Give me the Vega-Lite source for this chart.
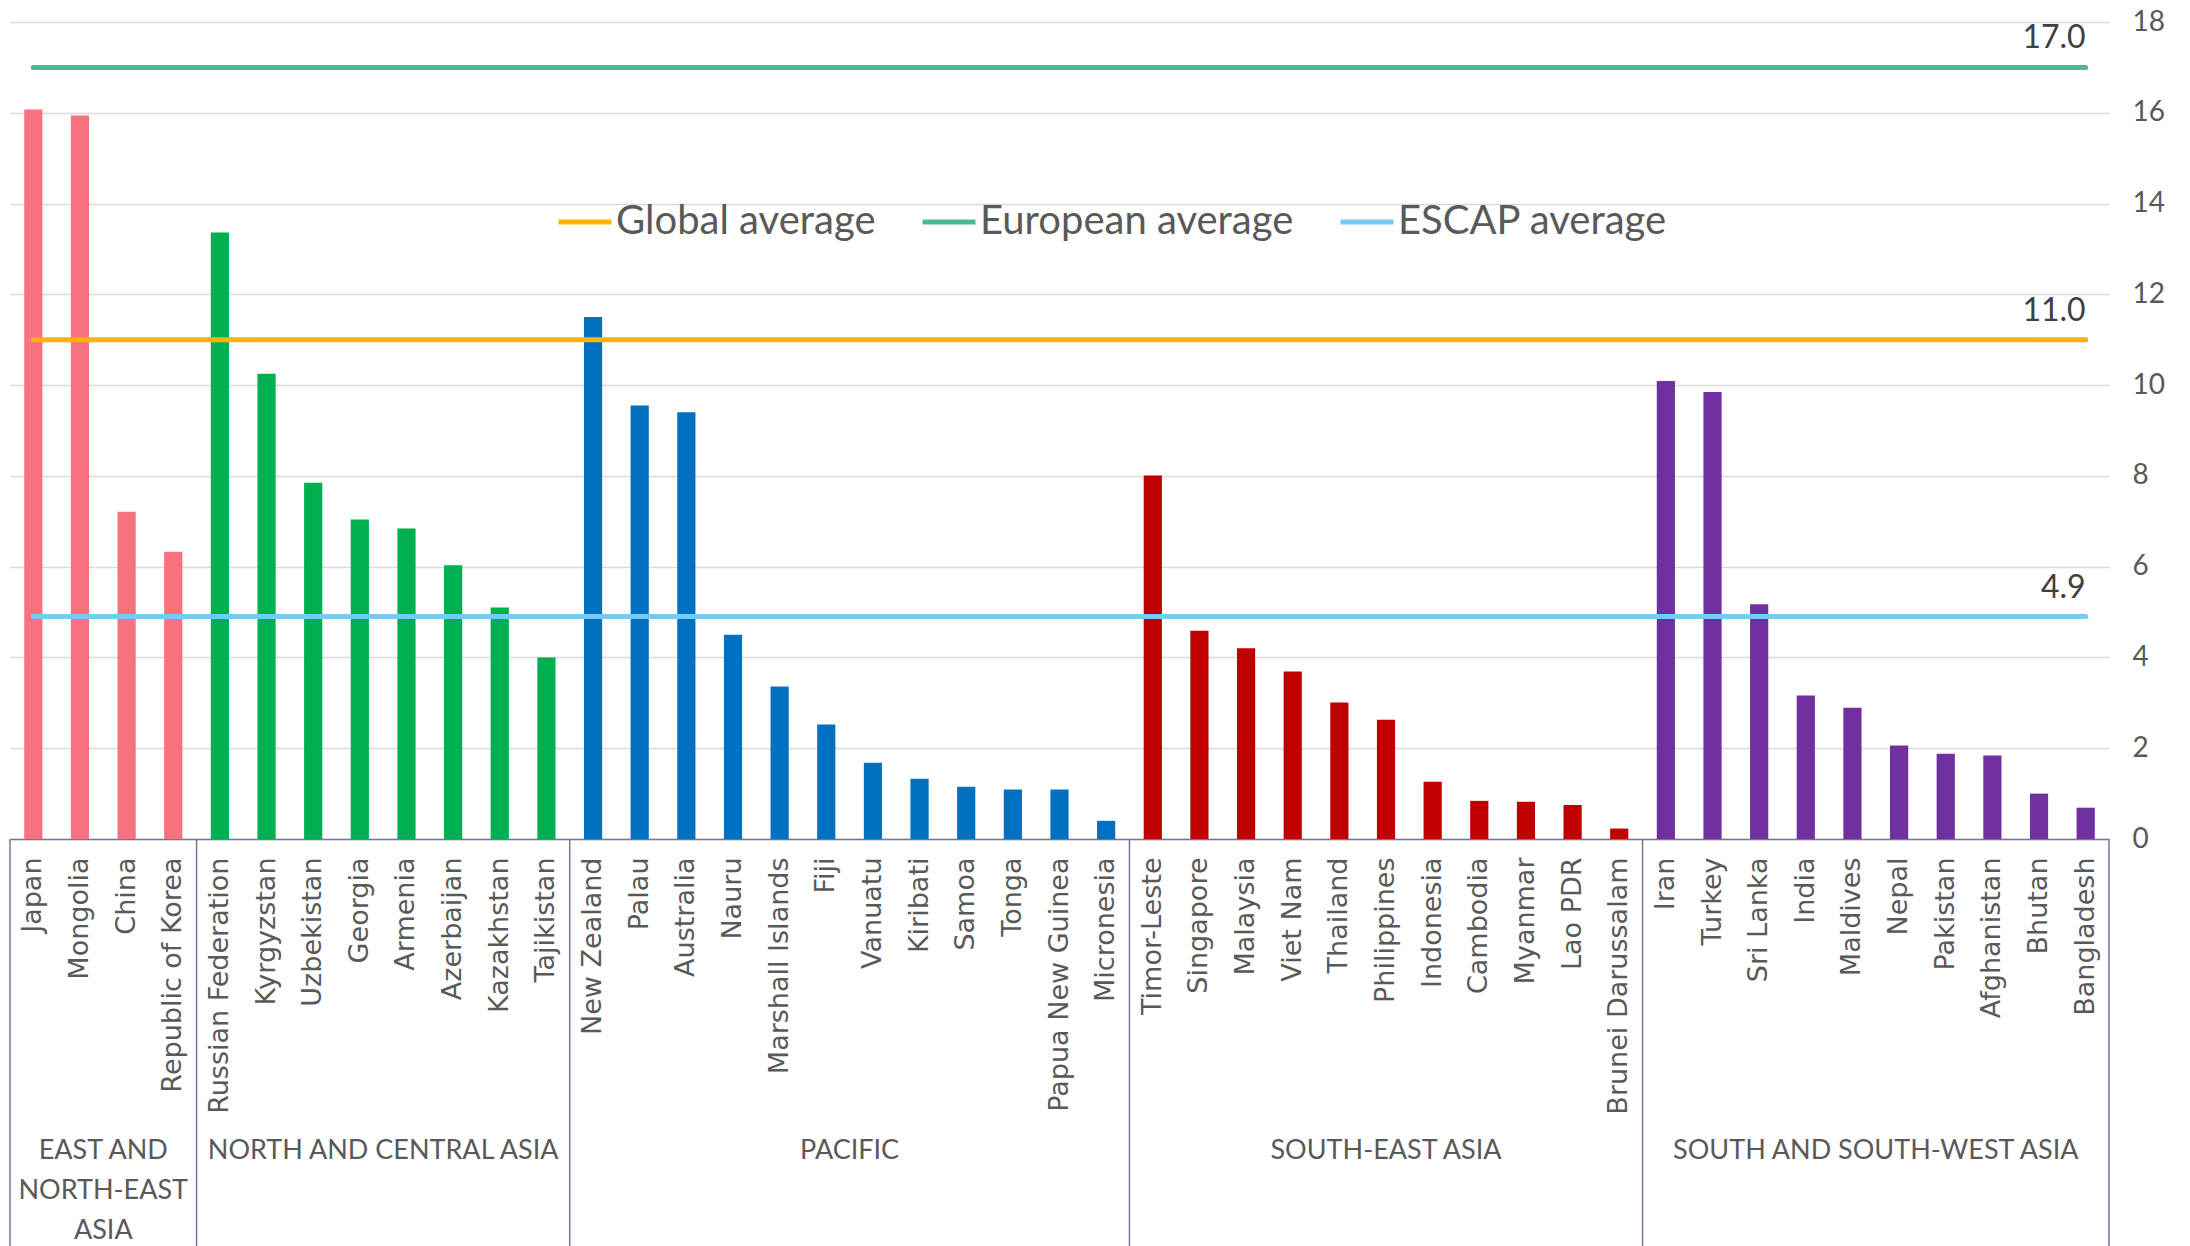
{
  "$schema": "https://vega.github.io/schema/vega-lite/v6.json",
  "width": 2099,
  "height": 817,
  "autosize": {"type": "none"},
  "padding": {"left": 10, "top": 22, "right": 81, "bottom": 407},
  "background": "white",
  "config": {"view": {"stroke": null}, "font": "Lato"},
  "datasets": {
    "countries": [
      {"country": "Japan", "region": "EAST AND NORTH-EAST ASIA", "value": 16.07},
      {"country": "Mongolia", "region": "EAST AND NORTH-EAST ASIA", "value": 15.94},
      {"country": "China", "region": "EAST AND NORTH-EAST ASIA", "value": 7.21},
      {"country": "Republic of Korea", "region": "EAST AND NORTH-EAST ASIA", "value": 6.33},
      {"country": "Russian Federation", "region": "NORTH AND CENTRAL ASIA", "value": 13.36},
      {"country": "Kyrgyzstan", "region": "NORTH AND CENTRAL ASIA", "value": 10.25},
      {"country": "Uzbekistan", "region": "NORTH AND CENTRAL ASIA", "value": 7.85},
      {"country": "Georgia", "region": "NORTH AND CENTRAL ASIA", "value": 7.04},
      {"country": "Armenia", "region": "NORTH AND CENTRAL ASIA", "value": 6.84},
      {"country": "Azerbaijan", "region": "NORTH AND CENTRAL ASIA", "value": 6.03},
      {"country": "Kazakhstan", "region": "NORTH AND CENTRAL ASIA", "value": 5.10},
      {"country": "Tajikistan", "region": "NORTH AND CENTRAL ASIA", "value": 4.00},
      {"country": "New Zealand", "region": "PACIFIC", "value": 11.50},
      {"country": "Palau", "region": "PACIFIC", "value": 9.55},
      {"country": "Australia", "region": "PACIFIC", "value": 9.40},
      {"country": "Nauru", "region": "PACIFIC", "value": 4.50},
      {"country": "Marshall Islands", "region": "PACIFIC", "value": 3.36},
      {"country": "Fiji", "region": "PACIFIC", "value": 2.52},
      {"country": "Vanuatu", "region": "PACIFIC", "value": 1.68},
      {"country": "Kiribati", "region": "PACIFIC", "value": 1.33},
      {"country": "Samoa", "region": "PACIFIC", "value": 1.15},
      {"country": "Tonga", "region": "PACIFIC", "value": 1.09},
      {"country": "Papua New Guinea", "region": "PACIFIC", "value": 1.09},
      {"country": "Micronesia", "region": "PACIFIC", "value": 0.40},
      {"country": "Timor-Leste", "region": "SOUTH-EAST ASIA", "value": 8.01},
      {"country": "Singapore", "region": "SOUTH-EAST ASIA", "value": 4.59},
      {"country": "Malaysia", "region": "SOUTH-EAST ASIA", "value": 4.20},
      {"country": "Viet Nam", "region": "SOUTH-EAST ASIA", "value": 3.69},
      {"country": "Thailand", "region": "SOUTH-EAST ASIA", "value": 3.01},
      {"country": "Philippines", "region": "SOUTH-EAST ASIA", "value": 2.63},
      {"country": "Indonesia", "region": "SOUTH-EAST ASIA", "value": 1.26},
      {"country": "Cambodia", "region": "SOUTH-EAST ASIA", "value": 0.84},
      {"country": "Myanmar", "region": "SOUTH-EAST ASIA", "value": 0.82},
      {"country": "Lao PDR", "region": "SOUTH-EAST ASIA", "value": 0.75},
      {"country": "Brunei Darussalam", "region": "SOUTH-EAST ASIA", "value": 0.23},
      {"country": "Iran", "region": "SOUTH AND SOUTH-WEST ASIA", "value": 10.09},
      {"country": "Turkey", "region": "SOUTH AND SOUTH-WEST ASIA", "value": 9.85},
      {"country": "Sri Lanka", "region": "SOUTH AND SOUTH-WEST ASIA", "value": 5.17},
      {"country": "India", "region": "SOUTH AND SOUTH-WEST ASIA", "value": 3.16},
      {"country": "Maldives", "region": "SOUTH AND SOUTH-WEST ASIA", "value": 2.89},
      {"country": "Nepal", "region": "SOUTH AND SOUTH-WEST ASIA", "value": 2.06},
      {"country": "Pakistan", "region": "SOUTH AND SOUTH-WEST ASIA", "value": 1.88},
      {"country": "Afghanistan", "region": "SOUTH AND SOUTH-WEST ASIA", "value": 1.84},
      {"country": "Bhutan", "region": "SOUTH AND SOUTH-WEST ASIA", "value": 1.00},
      {"country": "Bangladesh", "region": "SOUTH AND SOUTH-WEST ASIA", "value": 0.69}
    ],
    "averages": [
      {"series": "Global average", "value": 11.0},
      {"series": "European average", "value": 17.0},
      {"series": "ESCAP average", "value": 4.9}
    ],
    "regions": [
      {"region": "EAST AND NORTH-EAST ASIA", "first": "Japan", "edge": "China", "label": ["EAST AND", "NORTH-EAST", "ASIA"]},
      {"region": "NORTH AND CENTRAL ASIA", "first": "Russian Federation", "edge": "Armenia", "label": ["NORTH AND CENTRAL ASIA"]},
      {"region": "PACIFIC", "first": "New Zealand", "edge": "Vanuatu", "label": ["PACIFIC"]},
      {"region": "SOUTH-EAST ASIA", "first": "Timor-Leste", "mid": "Philippines", "label": ["SOUTH-EAST ASIA"]},
      {"region": "SOUTH AND SOUTH-WEST ASIA", "first": "Iran", "edge": "Nepal", "label": ["SOUTH AND SOUTH-WEST ASIA"]}
    ]
  },
  "layer": [
    {
      "data": {"name": "countries"},
      "mark": {"type": "bar", "width": {"band": 0.39}},
      "encoding": {
        "x": {
          "field": "country",
          "type": "nominal",
          "sort": null,
          "scale": {
            "paddingInner": 0,
            "paddingOuter": 0,
            "domain": ["Japan", "Mongolia", "China", "Republic of Korea", "Russian Federation", "Kyrgyzstan", "Uzbekistan", "Georgia", "Armenia", "Azerbaijan", "Kazakhstan", "Tajikistan", "New Zealand", "Palau", "Australia", "Nauru", "Marshall Islands", "Fiji", "Vanuatu", "Kiribati", "Samoa", "Tonga", "Papua New Guinea", "Micronesia", "Timor-Leste", "Singapore", "Malaysia", "Viet Nam", "Thailand", "Philippines", "Indonesia", "Cambodia", "Myanmar", "Lao PDR", "Brunei Darussalam", "Iran", "Turkey", "Sri Lanka", "India", "Maldives", "Nepal", "Pakistan", "Afghanistan", "Bhutan", "Bangladesh"]
          },
          "axis": {
            "title": null,
            "labelAngle": -90,
            "labelFont": "DejaVu Sans",
            "labelFontSize": 27,
            "labelColor": "#595959",
            "labelPadding": 18,
            "labelLimit": 400,
            "labelOverlap": false,
            "ticks": false,
            "grid": false,
            "domainColor": "#7F6F9C",
            "domainWidth": 1.5
          }
        },
        "y": {
          "field": "value",
          "type": "quantitative",
          "scale": {"domain": [0, 18], "nice": false},
          "axis": {
            "title": null,
            "orient": "right",
            "values": [0, 2, 4, 6, 8, 10, 12, 14, 16, 18],
            "grid": true,
            "gridColor": "#D9D9D9",
            "gridWidth": 1.5,
            "domain": false,
            "ticks": false,
            "labelFont": "Lato",
            "labelFontSize": 28,
            "labelColor": "#595959",
            "labelPadding": 23
          }
        },
        "fill": {
          "field": "region",
          "type": "nominal",
          "scale": {
            "domain": ["EAST AND NORTH-EAST ASIA", "NORTH AND CENTRAL ASIA", "PACIFIC", "SOUTH-EAST ASIA", "SOUTH AND SOUTH-WEST ASIA"],
            "range": ["#F7717F", "#00B050", "#0070C0", "#C00000", "#7030A0"]
          },
          "legend": null
        }
      }
    },
    {
      "data": {"name": "regions"},
      "mark": {"type": "rule", "color": "#7F6F9C", "strokeWidth": 1.5},
      "encoding": {
        "x": {"field": "first", "type": "nominal", "bandPosition": 0},
        "y": {"datum": 0, "type": "quantitative"},
        "y2": {"datum": -9}
      }
    },
    {
      "data": {"name": "regions"},
      "transform": [{"filter": "datum.region == 'SOUTH AND SOUTH-WEST ASIA'"}],
      "mark": {"type": "rule", "color": "#7F6F9C", "strokeWidth": 1.5},
      "encoding": {
        "x": {"datum": "Bangladesh", "type": "nominal", "bandPosition": 1},
        "y": {"datum": 0, "type": "quantitative"},
        "y2": {"datum": -9}
      }
    },
    {
      "data": {"name": "regions"},
      "transform": [{"filter": "isValid(datum.edge)"}],
      "mark": {"type": "text", "font": "Lato", "fontSize": 27, "color": "#595959", "align": "center", "baseline": "top", "lineHeight": 40},
      "encoding": {
        "x": {"field": "edge", "type": "nominal", "bandPosition": 0},
        "y": {"datum": -6.58, "type": "quantitative"},
        "text": {"field": "label", "type": "nominal"}
      }
    },
    {
      "data": {"name": "regions"},
      "transform": [{"filter": "isValid(datum.mid)"}],
      "mark": {"type": "text", "font": "Lato", "fontSize": 27, "color": "#595959", "align": "center", "baseline": "top", "lineHeight": 40},
      "encoding": {
        "x": {"field": "mid", "type": "nominal", "bandPosition": 0.5},
        "y": {"datum": -6.58, "type": "quantitative"},
        "text": {"field": "label", "type": "nominal"}
      }
    },
    {
      "data": {"name": "averages"},
      "mark": {"type": "rule", "strokeWidth": 5, "strokeCap": "round"},
      "encoding": {
        "x": {"datum": "Japan", "type": "nominal"},
        "x2": {"datum": "Bangladesh"},
        "y": {"field": "value", "type": "quantitative"},
        "stroke": {
          "field": "series",
          "type": "nominal",
          "scale": {
            "domain": ["Global average", "European average", "ESCAP average"],
            "range": ["#FFB300", "#44BB99", "#75CBF6"]
          },
          "legend": {
            "orient": "none",
            "legendX": 546,
            "legendY": 171,
            "direction": "horizontal",
            "columns": 3,
            "title": null,
            "symbolType": "stroke",
            "symbolStrokeWidth": 5,
            "symbolSize": 2809,
            "labelFont": "Lato",
            "labelFontSize": 40,
            "labelColor": "#595959",
            "labelOffset": 2,
            "columnPadding": 36,
            "labelLimit": 500
          }
        }
      }
    },
    {
      "data": {"name": "averages"},
      "mark": {"type": "text", "font": "Lato", "fontSize": 32, "color": "#404040", "align": "right", "baseline": "alphabetic", "dy": -19},
      "encoding": {
        "x": {"datum": "Bangladesh", "type": "nominal"},
        "y": {"field": "value", "type": "quantitative"},
        "text": {"field": "value", "type": "quantitative", "format": ".1f"}
      }
    }
  ]
}
